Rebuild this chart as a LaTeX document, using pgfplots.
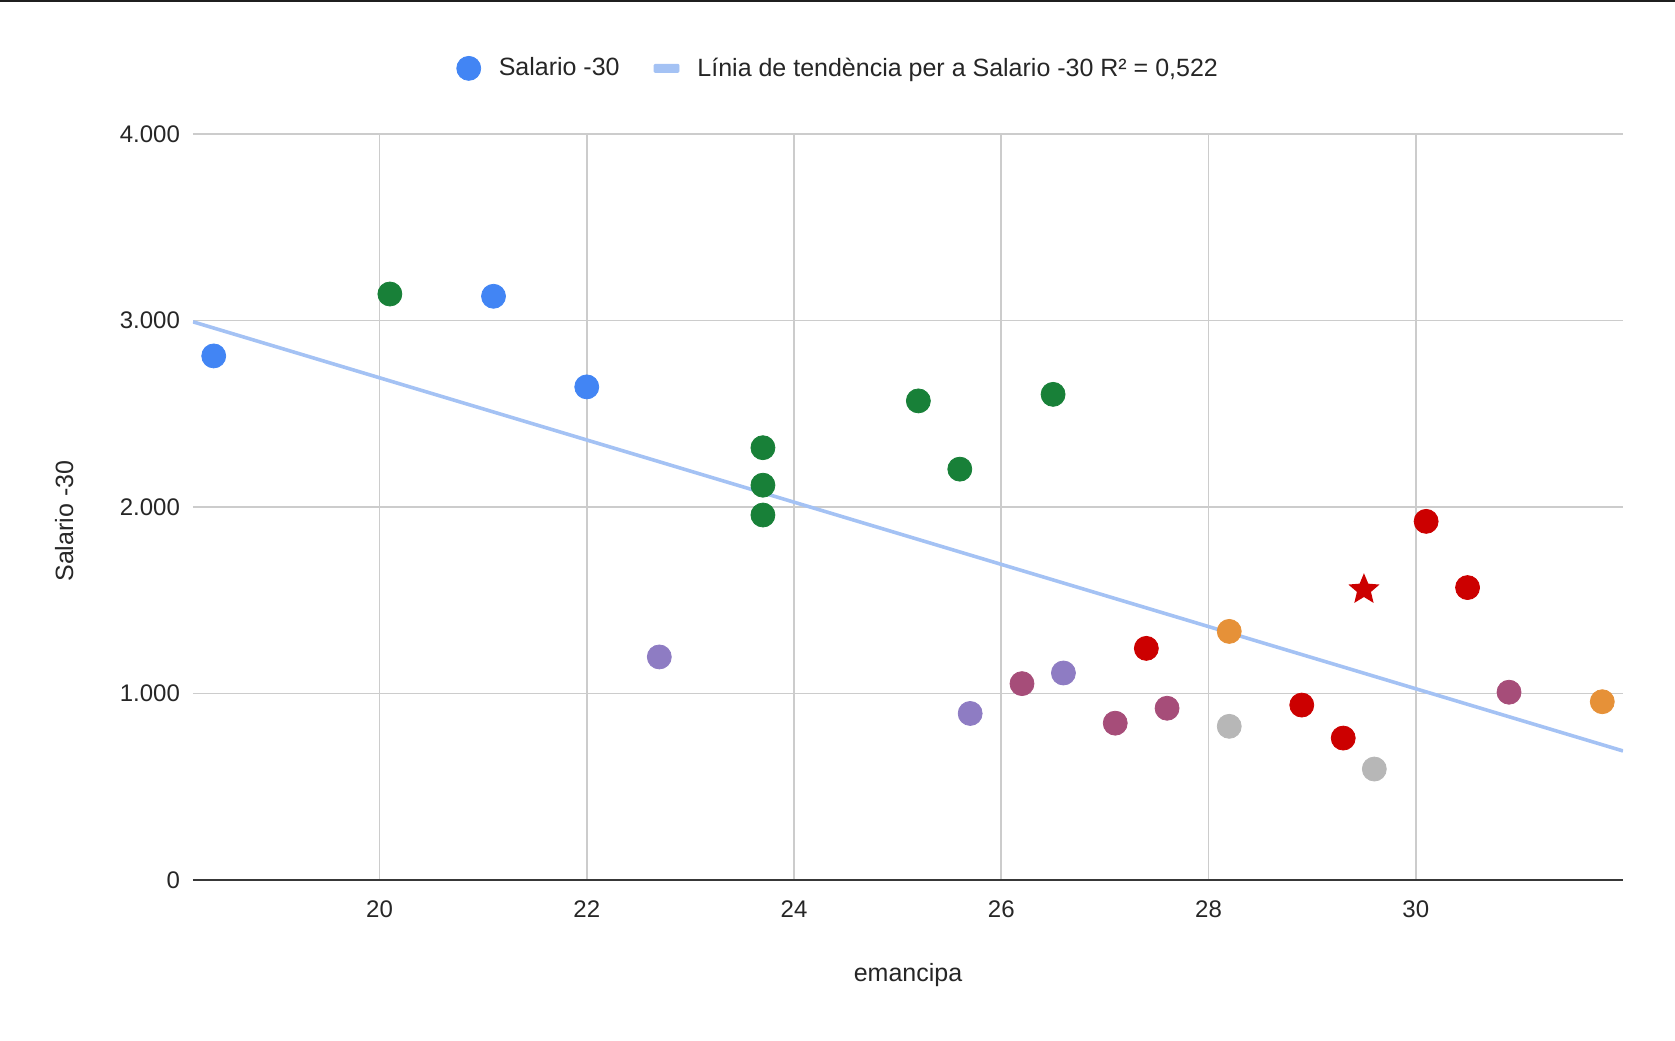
\documentclass[border=0pt]{standalone}
\usepackage{pgfplots}
\pgfplotsset{compat=1.18}
\usepackage{fontspec}
\setmainfont{Liberation Sans}

\definecolor{gblue}{HTML}{4285F4}
\definecolor{ggreen}{HTML}{188038}
\definecolor{gpurple}{HTML}{8E7CC3}
\definecolor{gmaroon}{HTML}{A64D79}
\definecolor{gred}{HTML}{CC0000}
\definecolor{gorange}{HTML}{E69138}
\definecolor{ggray}{HTML}{B7B7B7}
\definecolor{trend}{HTML}{A4C2F4}
\definecolor{gridc}{HTML}{CCCCCC}

% filled five-pointed star
\pgfdeclareplotmark{fstar}{%
  \pgfpathmoveto{\pgfpointpolar{90}{\pgfplotmarksize}}%
  \pgfpathlineto{\pgfpointpolar{126}{0.45\pgfplotmarksize}}%
  \pgfpathlineto{\pgfpointpolar{162}{\pgfplotmarksize}}%
  \pgfpathlineto{\pgfpointpolar{198}{0.45\pgfplotmarksize}}%
  \pgfpathlineto{\pgfpointpolar{234}{\pgfplotmarksize}}%
  \pgfpathlineto{\pgfpointpolar{270}{0.45\pgfplotmarksize}}%
  \pgfpathlineto{\pgfpointpolar{306}{\pgfplotmarksize}}%
  \pgfpathlineto{\pgfpointpolar{342}{0.45\pgfplotmarksize}}%
  \pgfpathlineto{\pgfpointpolar{18}{\pgfplotmarksize}}%
  \pgfpathlineto{\pgfpointpolar{54}{0.45\pgfplotmarksize}}%
  \pgfpathclose
  \pgfusepathqfill}

\begin{document}
\begin{tikzpicture}
\path[use as bounding box] (-96.5pt,-80pt) rectangle (741pt,440pt);
\fill[black!88] (-96.5pt,439pt) rectangle (741pt,440pt);
\begin{axis}[
  at={(0pt,0pt)}, anchor=south west,
  scale only axis, width=715pt, height=373pt,
  xmin=18.2, xmax=32, ymin=0, ymax=4000,
  xtick={20,22,...,30}, ytick={0,1000,...,4000},
  grid=major, grid style={gridc, line width=0.8pt},
  axis line style={draw=none},
  major tick length=0pt,
  scaled y ticks=false,
  /pgf/number format/1000 sep={.},
  /pgf/number format/assume math mode=true,
  ticklabel style={font=\fontsize{12pt}{14pt}\selectfont, text=black!85},
  xticklabel style={yshift=-7pt},
  yticklabel style={xshift=-3pt},
  extra y ticks={0}, extra y tick labels={},
  extra y tick style={grid style={draw=black!78, line width=1.1pt}},
  xlabel={emancipa},
  ylabel={Salario -30},
  label style={font=\fontsize{12.5pt}{15pt}\selectfont, text=black!85},
  xlabel style={at={(axis description cs:0.5,-0.127)}, anchor=center},
  ylabel style={at={(axis description cs:-0.090,0.481)}, anchor=center},
  legend style={at={(0.452,1.088)}, anchor=center, draw=none, fill=none,
    legend columns=-1, font=\fontsize{12.5pt}{15pt}\selectfont, text=black!85,
    /tikz/every odd column/.append style={column sep=7pt},
    /tikz/every even column/.append style={column sep=15pt}},
  mark size=6pt,
]
\addlegendimage{only marks, mark=*, mark size=6pt, gblue}
\addlegendentry{Salario -30}
\addlegendimage{legend image code/.code={\fill[trend, rounded corners=0.5pt] (0pt,-2pt) rectangle (12.5pt,2pt);}}
\addlegendentry{Línia de tendència per a Salario -30 R² = 0,522}

% trend line
\addplot[forget plot, trend, line width=1.8pt] coordinates {(18.2,2993) (32,692)};

\addplot[forget plot, only marks, mark=*, gblue] coordinates {
  (18.4,2810) (21.1,3130) (22.0,2644)};
\addplot[forget plot, only marks, mark=*, ggreen] coordinates {
  (20.1,3142) (23.7,2318) (23.7,2117) (23.7,1957) (25.2,2569) (25.6,2203) (26.5,2604)};
\addplot[forget plot, only marks, mark=*, gpurple] coordinates {
  (22.7,1196) (25.7,893) (26.6,1110)};
\addplot[forget plot, only marks, mark=*, gmaroon] coordinates {
  (26.2,1053) (27.1,841) (27.6,921) (30.9,1007)};
\addplot[forget plot, only marks, mark=*, gred] coordinates {
  (27.4,1242) (28.9,938) (29.3,761) (30.1,1923) (30.5,1568)};
\addplot[forget plot, only marks, mark=fstar, mark size=8.2pt, gred] coordinates {
  (29.5,1557)};
\addplot[forget plot, only marks, mark=*, gorange] coordinates {
  (28.2,1333) (31.8,956)};
\addplot[forget plot, only marks, mark=*, ggray] coordinates {
  (28.2,824) (29.6,595)};
\end{axis}
\end{tikzpicture}
\end{document}
